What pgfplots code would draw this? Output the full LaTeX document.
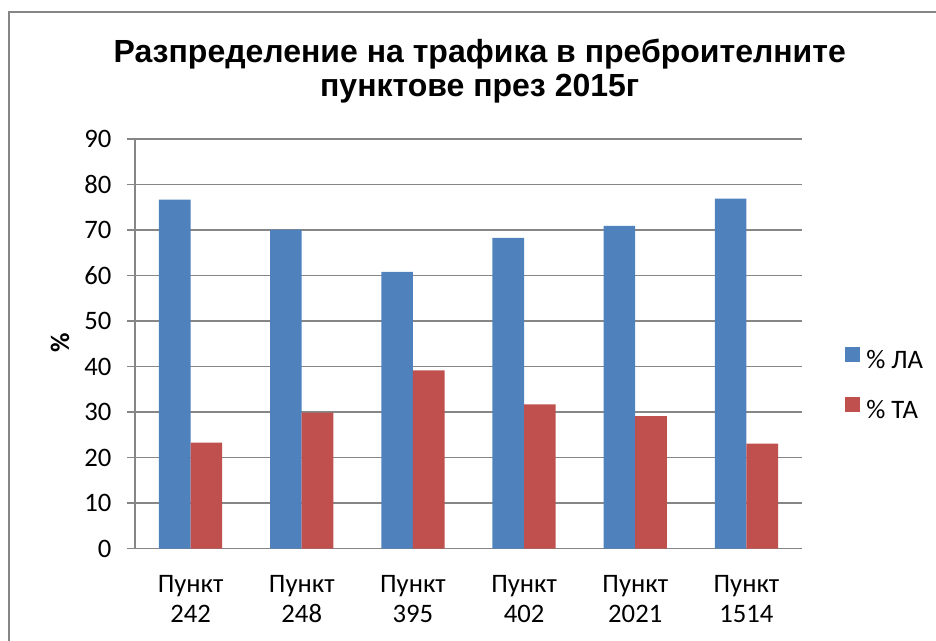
\documentclass[border=0pt]{standalone}
\usepackage{fontspec}
\setmainfont{Carlito}
\newfontfamily\titlefont{Liberation Sans}
\usepackage{pgfplots}
\pgfplotsset{compat=1.18}
\definecolor{laBlue}{HTML}{4F81BD}
\definecolor{taRed}{HTML}{C0504D}
\definecolor{frameGray}{RGB}{134,134,134}
\begin{document}
\begin{tikzpicture}
\useasboundingbox (0,0) rectangle (702pt,480.75pt);
% chart frame (only top and left edges are inside the picture)
\draw[frameGray, line width=1.5pt] (7pt,-5pt) -- (7pt,471.5pt) -- (710pt,471.5pt);
\node[anchor=base, font=\titlefont\bfseries\fontsize{24}{28}\selectfont] at (359.8pt,434pt) {Разпределение на трафика в преброителните};
\node[anchor=base, font=\titlefont\bfseries\fontsize{24}{28}\selectfont] at (359.8pt,408.2pt) {пунктове през 2015г};
\begin{axis}[
  at={(101.25pt,69.2pt)}, anchor=south west,
  scale only axis, width=500.25pt, height=307.3pt,
  ybar=0pt, bar width=23.7pt,
  xmin=-0.5, xmax=5.5, ymin=0, ymax=90,
  xtick={0,1,2,3,4,5},
  xticklabels={{Пункт\\242},{Пункт\\248},{Пункт\\395},{Пункт\\402},{Пункт\\2021},{Пункт\\1514}},
  ytick={0,10,...,90},
  axis x line*=bottom, axis y line*=left,
  axis line style={frameGray, line width=1.1pt, -},
  ymajorgrids, grid style={frameGray, line width=1.1pt},
  tick align=outside, major tick length=6pt,
  xtick style={draw=none}, ytick style={frameGray, line width=1.1pt},
  /pgf/number format/assume math mode=true,
  ticklabel style={font=\fontsize{20}{22.7}\selectfont},
  xticklabel style={align=center, anchor=north, inner sep=0pt, yshift=-13.9pt},
  yticklabel style={anchor=east, inner ysep=0pt, inner xsep=11.5pt},
  ylabel={\bfseries\%},
  ylabel style={at={(axis description cs:-0.1124,0.502)}, anchor=center, font=\fontsize{20}{22}\selectfont},
  legend style={at={(axis description cs:1.0645,0.4935)}, anchor=north west, draw=none, fill=none,
    inner sep=0pt, font=\fontsize{20}{22}\selectfont, row sep=20pt,
    nodes={inner sep=0pt}, /tikz/every odd column/.append style={column sep=4.5pt}},
  legend cell align=left,
  legend image code/.code={\fill[#1] (0pt,-1pt) rectangle (11.25pt,10.25pt);},
]
\addplot[fill=laBlue, draw=none] coordinates {(0,76.7) (1,70.1) (2,60.8) (3,68.3) (4,70.9) (5,76.9)};
\addlegendentry{\% ЛА}
\addplot[fill=taRed, draw=none] coordinates {(0,23.3) (1,29.9) (2,39.2) (3,31.7) (4,29.1) (5,23.1)};
\addlegendentry{\% ТА}
\end{axis}
\end{tikzpicture}
\end{document}
